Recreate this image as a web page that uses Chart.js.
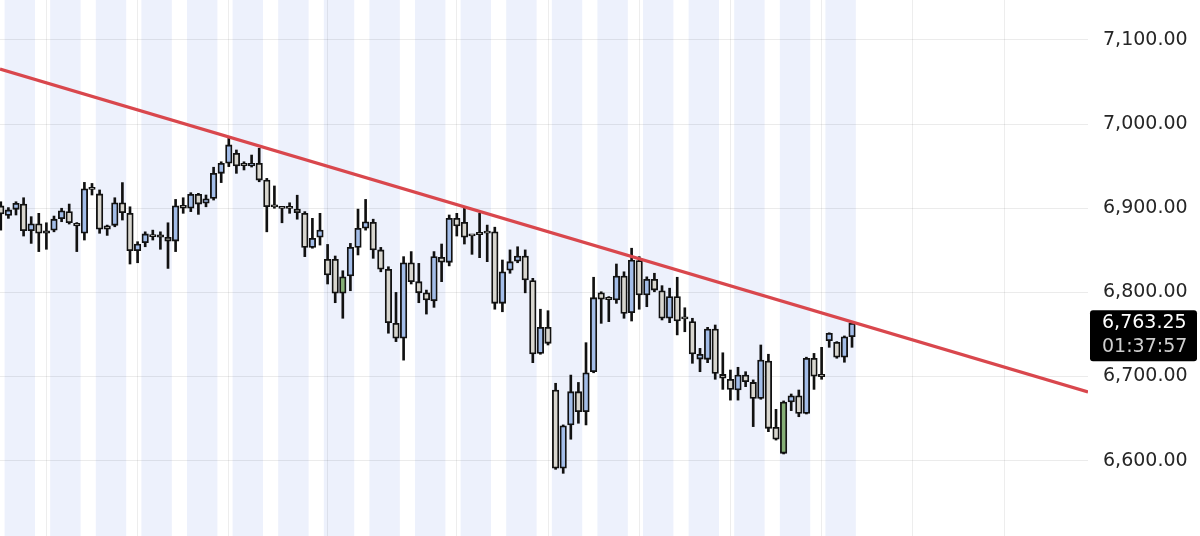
<!DOCTYPE html>
<html>
<head>
<meta charset="utf-8">
<script src="https://cdn.jsdelivr.net/npm/chart.js@4.4.1/dist/chart.umd.min.js"></script>
<style>
html,body{margin:0;padding:0;background:#ffffff;overflow:hidden}
#wrap{width:1200px;height:536px;position:relative}
</style>
</head>
<body>
<div id="wrap"><canvas id="c"></canvas></div>
<script>
// ---- DATA (candle index 0..112) ----
const opens = [6902.75,6891.5,6898.75,6905,6873.25,6881.5,6871.75,6874,6887.5,6896,6882,6870.25,6923,6917,6879,6879.75,6906.5,6894,6849.5,6859,6868.25,6866.5,6865.5,6861,6903.5,6900,6916.5,6906,6911.75,6941.5,6953.5,6965.25,6952,6950.25,6953.5,6933.5,6903.25,6900.25,6900.25,6899,6894,6853.5,6865.5,6839.25,6839.25,6799,6819.5,6853.5,6876.25,6883.25,6850.5,6827.5,6763.25,6745.5,6835.25,6812.75,6799.5,6790,6841.75,6835.75,6888,6883.25,6867.5,6869.5,6872,6872,6787,6826.5,6837,6843.25,6814,6727.5,6758.5,6684,6591,6642.5,6682,6658.25,6705.75,6799.5,6792,6791,6819.5,6776,6837.75,6797,6815.5,6802,6769.25,6795,6769,6765.25,6720.75,6720.5,6756.5,6702.5,6696.75,6684,6701.75,6693,6674,6718.5,6639.75,6608.75,6669.75,6677,6656.25,6721.75,6701.25,6742.5,6740.75,6723,6747.25];
const highs = [6907.75,6900.75,6907.75,6912.5,6890,6894,6882.75,6890.75,6900,6905,6883,6930.75,6929.5,6921.75,6880,6912.5,6930.5,6901.75,6860.25,6872,6874,6872,6882.75,6910.5,6912.5,6918.5,6917.75,6915.75,6948.75,6955.25,6983,6969.25,6955.25,6963.25,6971.25,6935.5,6926.5,6900.75,6906.5,6915.5,6896,6888,6894,6857,6843.25,6825.75,6858.25,6899,6910.5,6887,6853.5,6830.5,6800,6842.5,6848.5,6834.5,6802.75,6848.5,6857.5,6892,6894,6901,6868.25,6894,6880,6877.5,6838.5,6850.5,6854.25,6850.5,6816.75,6780,6778.25,6692,6642.5,6701.75,6693,6740.25,6818,6800.75,6795,6833.75,6824.5,6852.5,6842.5,6818.5,6822.75,6808,6805,6818,6781.75,6769.25,6733.5,6758.5,6761.25,6728.25,6707.75,6711,6705.75,6696,6737.5,6726.5,6661,6671,6679.25,6684,6723,6727.5,6734.75,6752,6741.5,6748.25,6764.75];
const lows = [6874,6888,6892,6867,6858.25,6848.5,6851.25,6872,6884,6881.25,6848.5,6862.25,6915.75,6870.25,6867.75,6878,6886,6833.75,6835.25,6854.25,6862.25,6851.25,6828.5,6848.5,6894,6896,6892.75,6901.75,6909.75,6930.5,6949.5,6941.5,6945.5,6949,6931.5,6872,6900,6882.75,6894,6887,6842.5,6852.5,6856.25,6810,6787.75,6769.25,6802,6844.5,6874,6840.5,6824.5,6751.5,6741.5,6719.5,6810,6787.75,6774.25,6782.25,6812.75,6831.5,6867,6857.5,6845.25,6841.25,6836.5,6780,6777,6822.75,6835.25,6799.5,6716.5,6726.5,6737.5,6589.75,6585,6625.5,6644.5,6642.5,6704.5,6763.25,6765.25,6787,6769.25,6766,6780,6783,6800.75,6767.25,6764,6749.5,6753.25,6715.75,6705.75,6716.5,6696.75,6684.75,6672,6672,6688,6640.5,6673,6634.5,6624.5,6608,6659.5,6652.25,6655.5,6684.75,6696.75,6734.75,6721.75,6717,6734.75];
const closes = [6893.25,6898,6906,6873.25,6881.5,6870.25,6870.5,6887,6897,6882.75,6879,6923,6922.25,6875,6875,6906.5,6894.75,6849.5,6857.5,6869.5,6866.25,6865.75,6861,6903,6900.25,6916.5,6905,6911.25,6941.5,6953.5,6975.25,6950.25,6950.75,6953.5,6933.5,6901.75,6901.5,6899.75,6899.75,6894.75,6853.5,6864.25,6874,6820.75,6799,6818.5,6853.5,6876.25,6884,6850.5,6827.5,6764,6745.5,6835.25,6812.75,6799.5,6791,6842.5,6836,6888,6879,6865.5,6867,6868.75,6870.25,6787,6824.5,6836.5,6843.25,6814.75,6726.75,6758.5,6739.5,6591,6641.5,6682,6658.25,6704.5,6793.75,6792,6791.5,6819.5,6775,6838.5,6797,6815.5,6802.75,6769.25,6795,6766,6768.5,6726.75,6726.5,6756.5,6703.75,6698,6684.75,6701.75,6694,6674,6719.5,6638.5,6625.5,6669.75,6677,6656.25,6721.75,6700.5,6700,6751.5,6723,6747.25,6763.25];
const highlighted = [45, 103];
const shadedSessions = [[1,4],[7,10],[13,16],[19,22],[25,28],[31,34],[37,40],[43,46],[49,52],[55,58],[61,64],[67,70],[73,76],[79,82],[85,88],[91,94],[97,100],[103,106],[109,112]];
const gridIndices = [6,18,30,43,60,72,84,96,108,120,132];
const priceTicks = [6600,6700,6800,6900,7000,7100];
const trendX = [-0.105, 143.05];
const trendY = [7065.5, 6681.6];
const lastPrice = 6763.25;
const countdown = '01:37:57';
const xRange = [-0.105, 143.05];
const yRange = [6510.5, 7147.5];

// ---- STYLE ----
const UP = '#a3bde8', DOWN = '#d8d6cf', MARK = '#84ae76', EDGE = '#111111';
const BAND = '#edf1fc';
const FONT = 'DejaVu Sans';

const fmt = v => v.toLocaleString('en-US', {minimumFractionDigits: 2, maximumFractionDigits: 2});

const idx = opens.map((_, i) => i);
const wickData = idx.map(i => ({x: i, y: [lows[i], highs[i]]}));
const bodyData = idx.map(i => ({x: i, y: [Math.min(opens[i], closes[i]), Math.max(opens[i], closes[i])]}));
const bodyColor = idx.map(i => highlighted.includes(i) ? MARK : (closes[i] > opens[i] ? UP : DOWN));

const bandsPlugin = {
  id: 'bands',
  beforeDraw(chart) {
    const {ctx, chartArea: a, scales: {x}} = chart;
    ctx.save();
    ctx.fillStyle = BAND;
    shadedSessions.forEach(([s, e]) => {
      const x0 = x.getPixelForValue(s - 0.5), x1 = x.getPixelForValue(e + 0.5);
      ctx.fillRect(x0, a.top, x1 - x0, a.bottom - a.top);
    });
    ctx.restore();
  }
};

const priceBoxPlugin = {
  id: 'priceBox',
  afterDraw(chart) {
    const {ctx, scales: {y}} = chart;
    const py = y.getPixelForValue(lastPrice);
    const bx = 1090, bw = 107, top = py - 13, bh = 51;
    ctx.save();
    ctx.fillStyle = '#000';
    ctx.beginPath();
    ctx.roundRect(bx, top, bw, bh, 3);
    ctx.fill();
    ctx.font = '19px "' + FONT + '"';
    ctx.textBaseline = 'middle';
    ctx.textAlign = 'left';
    ctx.fillStyle = '#ffffff';
    ctx.fillText(fmt(lastPrice), 1102, py);
    ctx.fillStyle = '#cfcfcf';
    ctx.fillText(countdown, 1102, py + 24);
    ctx.restore();
  }
};

Chart.defaults.font.family = FONT;

new Chart(document.getElementById('c'), {
  type: 'bar',
  data: {
    datasets: [
      {
        type: 'line',
        data: trendX.map((x, k) => ({x, y: trendY[k]})),
        borderColor: '#d9474d',
        borderWidth: 3.2,
        pointRadius: 0,
        order: 0
      },
      {
        type: 'bar',
        data: bodyData,
        backgroundColor: bodyColor,
        borderColor: EDGE,
        borderWidth: 1.8,
        borderSkipped: false,
        grouped: false,
        barPercentage: 1,
        categoryPercentage: 1,
        maxBarThickness: 6.5,
        minBarLength: 2.2,
        order: 1
      },
      {
        type: 'bar',
        data: wickData,
        backgroundColor: EDGE,
        borderWidth: 0,
        grouped: false,
        barPercentage: 1,
        categoryPercentage: 1,
        maxBarThickness: 2,
        order: 2
      }
    ]
  },
  options: {
    responsive: true,
    maintainAspectRatio: false,
    animation: false,
    events: [],
    layout: {padding: 0},
    plugins: {legend: {display: false}, tooltip: {enabled: false}},
    scales: {
      x: {
        type: 'linear',
        min: xRange[0],
        max: xRange[1],
        offset: false,
        grid: {color: 'rgba(0,0,0,0.07)', lineWidth: 1, drawTicks: false, offset: false},
        border: {display: false},
        ticks: {display: false},
        afterBuildTicks: s => { s.ticks = gridIndices.map(v => ({value: v})); },
        afterFit: s => { s.height = 0; s.paddingLeft = 0; s.paddingRight = 0; }
      },
      y: {
        type: 'linear',
        position: 'right',
        min: yRange[0],
        max: yRange[1],
        grid: {color: 'rgba(0,0,0,0.08)', lineWidth: 1, drawTicks: false},
        border: {display: false},
        ticks: {
          padding: 15,
          color: '#262626',
          font: {family: FONT, size: 19},
          callback: v => fmt(v)
        },
        afterBuildTicks: s => { s.ticks = priceTicks.map(v => ({value: v})); },
        afterFit: s => { s.width = 112; s.paddingTop = 0; s.paddingBottom = 0; }
      }
    }
  },
  plugins: [bandsPlugin, priceBoxPlugin]
});
</script>
</body>
</html>
